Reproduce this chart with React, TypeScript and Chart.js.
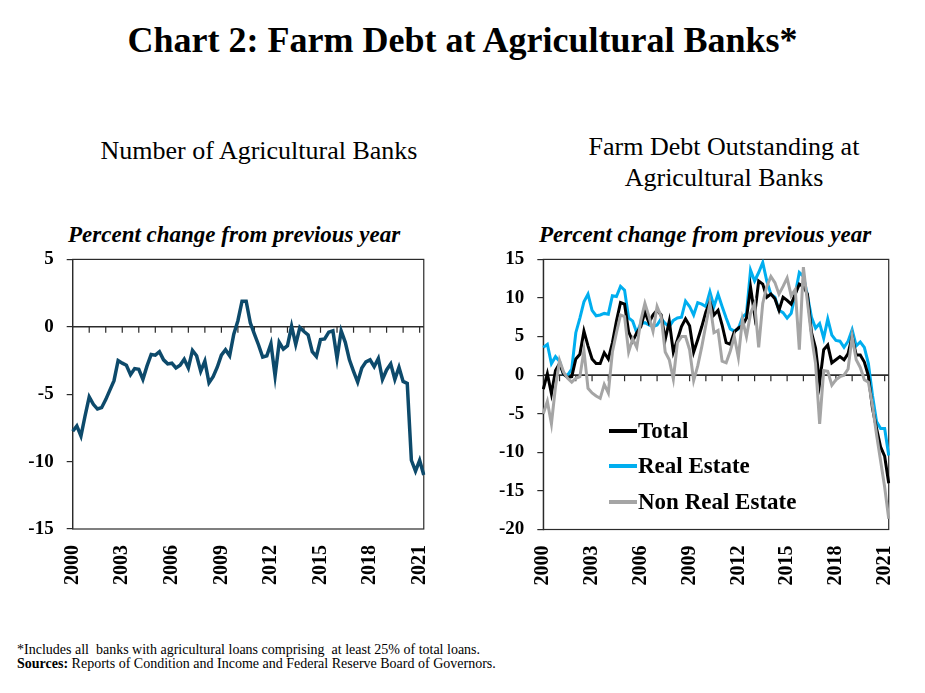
import { Chart, registerables } from "chart.js";
import { useEffect, useRef } from "react";

Chart.register(...registerables);

// quarterly observations, 2000 Q1 to 2021 Q2
const years = [2000, 2001, 2002, 2003, 2004, 2005, 2006, 2007, 2008, 2009, 2010, 2011, 2012, 2013, 2014, 2015, 2016, 2017, 2018, 2019, 2020, 2021];
const quarters = ["Q1", "Q2", "Q3", "Q4"];
const quartersIn2021 = 2;
const labelYears = [2000, 2003, 2006, 2009, 2012, 2015, 2018, 2021];

// Number of agricultural banks, percent change from previous year
const banksChange = [
    -7.75, -7.35, -8.1, -6.6, -5.2, -5.75, -6.1, -6.0, -5.4, -4.7,
    -4.0, -2.5, -2.7, -2.85, -3.55, -3.1, -3.15, -3.9, -2.9, -2.05,
    -2.1, -1.85, -2.45, -2.75, -2.7, -3.05, -2.85, -2.4, -3.05, -1.75,
    -2.15, -3.3, -2.55, -4.15, -3.7, -3.0, -2.1, -1.7, -2.15, -0.55,
    0.45, 1.9, 1.9, 0.3, -0.55, -1.35, -2.25, -2.15, -1.25, -3.65,
    -1.15, -1.65, -1.4, 0.05, -1.3, -0.05, -0.35, -0.6, -1.85, -2.2,
    -0.95, -0.9, -0.4, -0.3, -2.35, -0.3, -1.15, -2.45, -3.3, -4.1,
    -3.05, -2.6, -2.45, -2.95, -2.35, -3.9, -3.2, -2.75, -3.9, -3.0,
    -4.05, -4.2, -9.9, -10.7, -9.9, -11.0,
];

// Farm debt outstanding, percent change from previous year
const totalDebt = [
    -1.8, 0.2, -2.4, 0.6, 1.5, 0.1, -0.3, -0.2, 2.1, 2.7,
    5.7, 3.8, 2.1, 1.5, 1.5, 2.9, 2.1, 4.2, 7.0, 9.4,
    9.2, 5.6, 4.4, 5.5, 6.3, 8.2, 6.8, 7.8, 8.4, 7.8,
    4.6, 7.0, 3.0, 4.6, 6.3, 7.3, 6.4, 3.0, 4.6, 6.3,
    8.2, 9.5, 7.8, 8.4, 6.5, 4.2, 4.0, 5.6, 6.1, 6.4,
    7.4, 11.4, 7.8, 12.2, 11.8, 10.1, 10.5, 9.9, 8.4, 10.1,
    9.7, 9.2, 10.5, 11.8, 11.5, 10.5, 5.5, 3.5, -1.0, 3.3,
    3.9, 1.6, 2.0, 2.4, 2.0, 2.8, 5.0, 2.6, 2.6, 1.7,
    -0.1, -4.3, -6.9, -9.3, -10.5, -14.0,
];

const realEstateDebt = [
    3.6, 4.0, 1.5, 2.4, 1.8, 0.1, 0.0, 0.8, 5.5, 7.4,
    9.5, 10.5, 8.4, 7.7, 7.8, 8.0, 7.9, 10.3, 10.2, 11.5,
    11.0, 7.4, 7.0, 5.5, 6.7, 6.8, 6.5, 6.3, 6.5, 7.3,
    6.7, 6.3, 7.1, 7.4, 7.5, 9.6, 8.9, 7.8, 9.4, 9.2,
    8.9, 10.8, 8.9, 10.5, 8.9, 7.4, 6.0, 5.7, 6.0, 7.5,
    8.0, 13.6, 12.2, 13.3, 14.6, 12.2, 10.5, 10.1, 8.4, 8.1,
    7.4, 8.0, 10.5, 13.3, 12.8, 10.3, 7.5, 6.1, 6.7, 4.8,
    7.3, 5.2, 4.5, 4.4, 3.6, 4.4, 5.9, 3.8, 4.3, 3.6,
    1.5, -2.6, -6.0, -6.9, -6.9, -10.4,
];

const nonRealEstateDebt = [
    -5.0, -3.4, -6.3, -1.5, 1.9, 0.4, -0.4, -0.9, -0.4, -0.2,
    3.2, -1.7, -2.3, -2.7, -3.0, -1.2, -2.3, 3.0, 5.5, 7.8,
    7.6, 3.0, 4.7, 3.6, 7.1, 9.3, 7.6, 5.7, 8.9, 7.6,
    3.0, 2.0, -0.5, 4.2, 5.0, 5.0, 3.3, -0.7, 1.2, 3.7,
    6.5, 9.3, 5.5, 5.8, 1.8, 1.6, 3.1, 5.0, 2.3, 7.2,
    5.0, 8.0, 9.3, 3.6, 9.3, 11.5, 12.8, 12.0, 10.5, 11.5,
    12.6, 10.3, 11.1, 3.3, 14.0, 9.5, 5.0, 1.5, -6.3, 0.6,
    0.5, -1.3, -0.6, -0.2, 0.0, 0.8, 5.0, 2.0, 1.0, -0.6,
    -0.9, -3.9, -7.7, -11.1, -14.5, -18.6,
];

const quarterLabels = years.flatMap((yr) =>
    quarters.slice(0, yr === 2021 ? quartersIn2021 : 4).map((q) => `${yr} ${q}`)
);

const SERIF = "'Liberation Serif', 'Times New Roman', serif";
const AXIS = "#2b2b2b";

// box round the plot, the axis at zero and the yearly tick marks hanging from it
const framePlugin = {
    id: "frame",
    beforeDatasetsDraw(chart: any) {
        const { ctx, chartArea: a, scales } = chart;
        const y0 = scales.y.getPixelForValue(0);
        ctx.save();
        ctx.strokeStyle = AXIS;
        ctx.lineWidth = 1.2;
        ctx.strokeRect(a.left, a.top, a.right - a.left, a.bottom - a.top);
        ctx.lineWidth = 1.6;
        ctx.beginPath();
        ctx.moveTo(a.left, y0);
        ctx.lineTo(a.right, y0);
        ctx.stroke();
        ctx.lineWidth = 1.2;
        ctx.beginPath();
        quarterLabels.forEach((lab, i) => {
            if (i > 0 && lab.endsWith("Q1")) {
                const x = scales.x.getPixelForValue(i);
                ctx.moveTo(x, y0);
                ctx.lineTo(x, y0 + 6);
            }
        });
        ctx.stroke();
        ctx.restore();
    },
};

type Series = { label: string; data: number[]; color: string; width: number; order: number };

function Panel(props: {
    series: Series[];
    yMin: number;
    yMax: number;
    left: number;
    top: number;
    width: number;
    height: number;
    axisWidth: number;
    padRight: number;
    padTop: number;
    padBottom: number;
}) {
    const canvasRef = useRef<HTMLCanvasElement | null>(null);
    const chartRef = useRef<Chart | null>(null);

    useEffect(() => {
        const ctx = canvasRef.current?.getContext("2d");
        if (chartRef.current) {
            chartRef.current.destroy();
        }

        chartRef.current = new Chart(ctx!, {
            type: "line",
            data: {
                labels: quarterLabels,
                datasets: props.series.map((s) => ({
                    label: s.label,
                    data: s.data,
                    borderColor: s.color,
                    borderWidth: s.width,
                    pointRadius: 0,
                    tension: 0,
                    fill: false,
                    order: s.order,
                })),
            },
            options: {
                responsive: false,
                animation: false,
                devicePixelRatio: 1,
                layout: {
                    padding: { left: 0, right: props.padRight, top: props.padTop, bottom: props.padBottom },
                },
                plugins: {
                    legend: { display: false },
                    tooltip: { enabled: false },
                },
                scales: {
                    x: {
                        type: "category",
                        offset: false,
                        grid: { display: false, drawTicks: false },
                        border: { display: false },
                        afterFit: (scale: any) => {
                            scale.height = 70;
                        },
                        ticks: {
                            autoSkip: false,
                            maxRotation: 90,
                            minRotation: 90,
                            padding: 16,
                            color: "#000",
                            font: { family: SERIF, size: 20, weight: "bold" },
                            callback: (_v: any, i: number) => {
                                const [yr, q] = quarterLabels[i].split(" ");
                                return q === "Q1" && labelYears.includes(Number(yr)) ? yr : null;
                            },
                        },
                    },
                    y: {
                        min: props.yMin,
                        max: props.yMax,
                        grid: { drawOnChartArea: false, drawTicks: true, tickLength: 6, color: AXIS, lineWidth: 1.2 },
                        border: { display: true, color: AXIS, width: 1.2 },
                        afterFit: (scale: any) => {
                            scale.width = props.axisWidth;
                        },
                        ticks: {
                            stepSize: 5,
                            padding: 13,
                            color: "#000",
                            font: { family: SERIF, size: 19, weight: "bold" },
                        },
                    },
                },
            },
            plugins: [framePlugin],
        });

        return () => {
            if (chartRef.current) {
                chartRef.current.destroy();
                chartRef.current = null;
            }
        };
    }, []);

    return (
        <canvas
            ref={canvasRef}
            width={props.width}
            height={props.height}
            style={{ position: "absolute", left: props.left, top: props.top, width: props.width, height: props.height }}
        />
    );
}

const text = (extra: React.CSSProperties): React.CSSProperties => ({
    position: "absolute",
    fontFamily: SERIF,
    color: "#000",
    lineHeight: 1,
    whiteSpace: "pre",
    ...extra,
});

function LegendRow(props: { top: number; color: string; label: string }) {
    return (
        <>
            <div style={{ position: "absolute", left: 609, top: props.top - 2, width: 28, height: 4, background: props.color }} />
            <div style={text({ left: 638, top: props.top - 12, fontSize: 23, fontWeight: "bold" })}>{props.label}</div>
        </>
    );
}

export default function App() {
    return (
        <div style={{ position: "fixed", left: 0, top: 0, width: 925, height: 693, background: "#fff", overflow: "hidden" }}>
            <div style={text({ left: 0, top: 22, width: 925, textAlign: "center", fontSize: 36, fontWeight: "bold" })}>
                Chart 2: Farm Debt at Agricultural Banks*
            </div>

            <div style={text({ left: 59, top: 138, width: 400, textAlign: "center", fontSize: 26 })}>
                Number of Agricultural Banks
            </div>
            <div style={text({ left: 524, top: 131, width: 400, textAlign: "center", fontSize: 26, lineHeight: "31px", whiteSpace: "normal" })}>
                Farm Debt Outstanding at
                <br />
                Agricultural Banks
            </div>

            <div style={text({ left: 68, top: 223, fontSize: 23, fontWeight: "bold", fontStyle: "italic" })}>
                Percent change from previous year
            </div>
            <div style={text({ left: 539, top: 223, fontSize: 23, fontWeight: "bold", fontStyle: "italic" })}>
                Percent change from previous year
            </div>

            <Panel
                series={[{ label: "Number of Agricultural Banks", data: banksChange, color: "#0d4a6b", width: 3.5, order: 0 }]}
                yMin={-15}
                yMax={5}
                left={0}
                top={235}
                width={460}
                height={400}
                axisWidth={72.7}
                padRight={31}
                padTop={15}
                padBottom={36}
            />
            <Panel
                series={[
                    { label: "Non Real Estate", data: nonRealEstateDebt, color: "#a5a5a5", width: 3, order: 0 },
                    { label: "Total", data: totalDebt, color: "#000000", width: 3, order: 1 },
                    { label: "Real Estate", data: realEstateDebt, color: "#00aeef", width: 3, order: 2 },
                ]}
                yMin={-20}
                yMax={15}
                left={470}
                top={235}
                width={455}
                height={400}
                axisWidth={73.3}
                padRight={29.3}
                padTop={16.5}
                padBottom={35.5}
            />

            <LegendRow top={431} color="#000000" label="Total" />
            <LegendRow top={466} color="#00aeef" label="Real Estate" />
            <LegendRow top={502} color="#a5a5a5" label="Non Real Estate" />

            <div style={text({ left: 17, top: 643, fontSize: 14 })}>
                *Includes all  banks with agricultural loans comprising  at least 25% of total loans.
            </div>
            <div style={text({ left: 17, top: 657, fontSize: 14 })}>
                <b>Sources:</b> Reports of Condition and Income and Federal Reserve Board of Governors.
            </div>
        </div>
    );
}
